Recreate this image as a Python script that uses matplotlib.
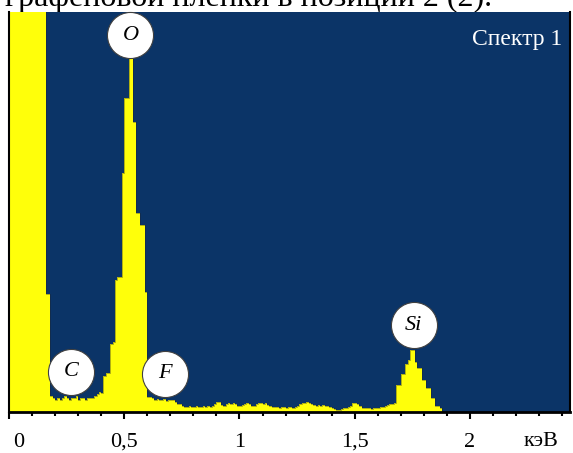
import numpy as np
import matplotlib
matplotlib.use("Agg")
import matplotlib.pyplot as plt
from matplotlib.transforms import ScaledTranslation

# Spektr EDS: odschety po kanalam shirinoj 0.01 keV (verkh shkaly = 100)
channel_kev = 0.01
counts = [
    150, 150, 150, 150, 150, 150, 150, 150, 150, 150,          # 0.00-0.09
    150, 150, 150, 150, 150, 150, 29.5, 29.5, 4, 3.5,          # 0.10-0.19
    3, 3.5, 3, 3.5, 4, 3.5, 3, 3.5, 3.5, 4,                    # 0.20
    3, 3.5, 3.5, 3, 3.5, 3.5, 3.5, 4, 4.5, 5,                  # 0.30
    4.75, 9, 9.75, 9.75, 17, 17.5, 33, 33.75, 33.75, 59.75,    # 0.40
    78.5, 78.5, 88.5, 88.5, 72.5, 49.75, 49.75, 46.75, 46.75, 30,  # 0.50
    3.75, 3.75, 3.5, 3, 3.25, 3, 3, 3.25, 2.75, 3,             # 0.60
    3, 3, 2.5, 2, 2, 1.5, 1.25, 1.25, 1.5, 1.25,               # 0.70
    1.25, 1.5, 1.25, 1.25, 1.5, 1.25, 1.5, 1.25, 1.5, 2,       # 0.80
    2.5, 2.5, 1.75, 1.5, 2, 2.25, 2, 2.25, 2, 1.5,             # 0.90
    1.5, 1.75, 2, 2.25, 2, 1.5, 1.5, 2, 2.25, 2.25,            # 1.00
    2, 2.25, 1.75, 1.5, 1.25, 1.25, 1.25, 1, 1.25, 1.25,       # 1.10
    1, 1.25, 1.25, 1, 1.25, 1.5, 2, 2.25, 2.25, 2.5,           # 1.20
    2.25, 2, 1.75, 1.5, 1.75, 1.5, 1.75, 1.5, 1.5, 1.25,       # 1.30
    1, 0.75, 0.5, 0.5, 0.75, 1, 1, 1.25, 1.5, 2.25,            # 1.40
    2.25, 2, 1.5, 1, 1, 1, 1, 0.75, 1, 1,                      # 1.50
    1, 1.25, 1.25, 1.5, 1.75, 2, 2, 2.25, 6.75, 6.75,          # 1.60
    9.5, 9.5, 12, 13, 15.5, 15.5, 12.5, 11, 11, 8,             # 1.70
    8, 6, 6, 3.5, 3.5, 1.5, 1.5, 1,                            # 1.80
]

# Metki pikov: element, energiya (keV), vysota kruzhka
peak_names = ["O", "C", "F", "Si"]
peak_kev = [0.527, 0.271, 0.675, 1.755]
peak_level = [94.25, 10, 9.5, 21.75]

tick_kev = [0, 0.5, 1, 1.5, 2]
tick_labels = ["0", "0,5", "1", "1,5", "2"]

blue = "#0b3467"
yellow = "#ffff0a"
serif = ["Liberation Serif", "DejaVu Serif"]

fig = plt.figure(figsize=(5.73, 4.53), dpi=100)
ax = fig.add_axes([9 / 573, 1 - 412 / 453, 561 / 573, 400 / 453])
ax.set_facecolor(blue)

edges = np.arange(len(counts) + 1) * channel_kev
ax.stairs(counts, edges, fill=True, color=yellow, zorder=2)
ax.stairs(counts, edges, fill=False, color="#202020", lw=0.5, alpha=0.5, zorder=2)

ax.set_xlim(0, 2.434)
ax.set_ylim(0, 100)

# kruzhki s oboznacheniyami elementov
ax.scatter(peak_kev, peak_level, s=1100, facecolor="white", edgecolor="#404040",
           linewidth=0.8, zorder=4, clip_on=False)
for name, e, c in zip(peak_names, peak_kev, peak_level):
    ax.text(e, c, name, ha="center", va="center", fontsize=16, style="italic",
            family=serif, zorder=5)

ax.text(0.9857, 0.9175, "Спектр 1", transform=ax.transAxes, ha="right",
        va="baseline", color="white", fontsize=17, family=serif)

# osi
ax.spines["top"].set_visible(False)
ax.spines["left"].set_linewidth(1.5)
ax.spines["right"].set_linewidth(1.5)
ax.spines["bottom"].set_linewidth(2)
ax.set_yticks([])
ax.set_xticks(tick_kev)
ax.set_xticklabels(tick_labels, fontsize=16, family=serif)
ax.set_xticks(np.arange(0, 2.45, 0.1), minor=True)
ax.tick_params(axis="x", which="major", direction="out", length=5, width=1.5, pad=10)
ax.tick_params(axis="x", which="minor", direction="out", length=3, width=1.5)

lab0 = ax.get_xticklabels()[0]
lab0.set_transform(lab0.get_transform() + ScaledTranslation(0.1, 0, fig.dpi_scale_trans))

ax.text(2.31, -0.05, "кэВ", transform=ax.get_xaxis_transform(), ha="center",
        va="top", fontsize=16, family=serif)

# obrezannaya stroka teksta nad risunkom
fig.text(0.008, 1 - 6 / 453, "графеновой пленки в позиции 2 (2).", ha="left",
         va="baseline", fontsize=23, family=serif, zorder=-1)

fig.savefig("out.png", dpi=100)
